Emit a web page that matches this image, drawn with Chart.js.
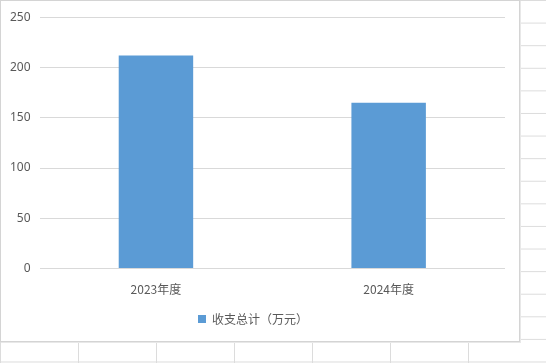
<!DOCTYPE html>
<html>
<head>
<meta charset="utf-8">
<script src="https://cdn.jsdelivr.net/npm/chart.js@4/dist/chart.umd.min.js"></script>
<style>
  html, body { margin: 0; padding: 0; }
  body {
    width: 546px; height: 363px; overflow: hidden; position: relative;
    background-color: #fff;
    background-image:
      linear-gradient(to right, #dcdcdc 1px, transparent 1px),
      linear-gradient(to bottom, #dcdcdc 1px, transparent 1px);
    background-size: 78px 22.6px;
    background-position: 0px 0px;
  }
  #box {
    position: absolute; left: 0; top: 0; width: 520px; height: 342px;
    background: #fff; border: 1px solid #d4d4d4; box-sizing: border-box;
    box-shadow: 1px 1px 0 #e8e8e8;
  }
</style>
</head>
<body>
<div id="box"><canvas id="myChart" width="518" height="340"></canvas></div>
<script>
// categories and values
const labels = ["2023年度", "2024年度"];
const totals = [212, 165];
const seriesName = "收支总计（万元）";

const ctx = document.getElementById("myChart").getContext("2d");
const myChart = new Chart(ctx, {
  type: "bar",
  data: {
    labels: labels,
    datasets: [
      {
        label: seriesName,
        data: totals,
        backgroundColor: "#5B9BD5",
        borderWidth: 0,
        barPercentage: 0.32,
        categoryPercentage: 1,
      },
    ],
  },
  options: {
    responsive: false,
    animation: false,
    layout: { padding: { top: 13, right: 14, left: 0, bottom: 6 } },
    plugins: {
      tooltip: { enabled: false },
      legend: {
        position: "bottom",
        labels: {
          boxWidth: 8,
          boxHeight: 8,
          color: "#595959",
          font: { family: "'Noto Sans CJK SC', 'Noto Sans'", size: 12 },
        },
      },
    },
    scales: {
      x: {
        grid: { display: false },
        border: { display: false },
        ticks: {
          color: "#595959",
          padding: 6,
          font: { family: "'Noto Sans CJK SC', 'Noto Sans'", size: 12 },
        },
      },
      y: {
        min: 0,
        max: 250,
        ticks: {
          stepSize: 50,
          color: "#595959",
          padding: 9,
          font: { family: "'Noto Sans', 'Noto Sans CJK SC'", size: 12 },
        },
        grid: { color: "#d9d9d9", drawTicks: false },
        border: { display: false },
      },
    },
  },
});
</script>
</body>
</html>
